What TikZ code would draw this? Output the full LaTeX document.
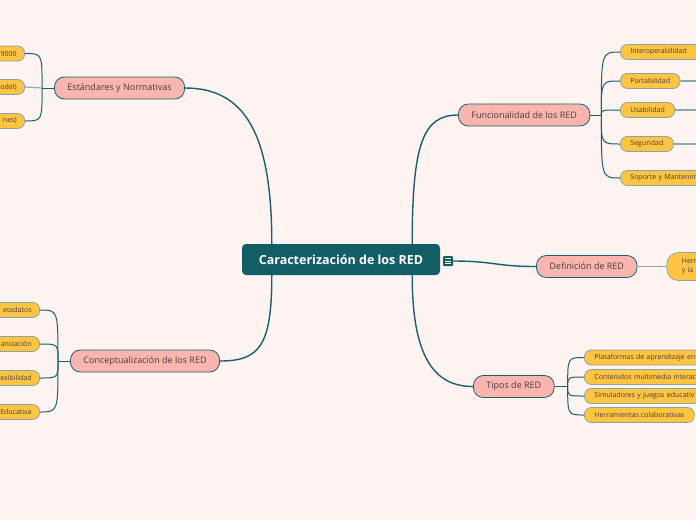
\documentclass[tikz,border=0pt]{standalone}
\usepackage{fontspec}
\setmainfont{Open Sans}
\usetikzlibrary{positioning}

\definecolor{bgpink}{RGB}{253,243,241}
\definecolor{hubteal}{RGB}{17,94,103}
\definecolor{linkteal}{RGB}{26,96,107}
\definecolor{softteal}{RGB}{136,170,174}
\definecolor{topicpink}{RGB}{251,181,175}
\definecolor{leafyellow}{RGB}{255,196,66}
\definecolor{leafedge}{RGB}{140,165,160}
\definecolor{inkgrey}{RGB}{70,60,60}

\begin{document}
\begin{tikzpicture}[x=1pt, y=-1pt,
    hubbox/.style={rectangle, rounded corners=4pt, fill=hubteal, text=white,
                   font=\fontsize{12.5}{14}\selectfont\bfseries,
                   minimum width=198pt, minimum height=31pt, inner sep=0pt},
    topicbox/.style={rectangle, rounded corners=10pt, draw=linkteal, line width=0.8pt,
                     fill=topicpink, text=inkgrey, font=\fontsize{9}{11}\selectfont,
                     minimum height=22pt, inner xsep=13pt, inner ysep=0pt},
    leafbox/.style={rectangle, rounded corners=7pt, draw=leafedge, line width=0.8pt,
                    fill=leafyellow, text=inkgrey, font=\fontsize{7}{8.5}\selectfont,
                    minimum height=15pt, inner xsep=10pt, inner ysep=0pt},
    cutleft/.style={leafbox, anchor=east, text width=50pt, align=right, inner xsep=8pt},
    cutright/.style={leafbox, anchor=west, text width=120pt, align=left},
    branch/.style={draw=linkteal, line width=1.4pt},
    twig/.style={draw=linkteal, line width=1pt},
    softtwig/.style={draw=softteal, line width=1.2pt}
]

\fill[bgpink] (0,0) rectangle (696,520);
\useasboundingbox (0,0) rectangle (696,520);
\clip (0,0) rectangle (696,520);

% central topic
\node[hubbox] (hub) at (341,259.5) {Caracterización de los RED};
\node[fill=hubteal, minimum size=10pt, inner sep=0pt, rounded corners=1pt] (note) at (448,261) {};
\foreach \ly in {258.5,261,263.5}
    \draw[white, line width=0.6pt] (445,\ly) -- (451,\ly);

% main topics
\node[topicbox, anchor=east] (std) at (185,88) {Estándares y Normativas};
\node[topicbox, anchor=east] (concept) at (220,361) {Conceptualización de los RED};
\node[topicbox, anchor=west] (func) at (458,115) {Funcionalidad de los RED};
\node[topicbox, anchor=west] (def) at (536,266.5) {Definición de RED};
\node[topicbox, anchor=west] (tipos) at (473,386.5) {Tipos de RED};

% leaves, left side
\node[cutleft] (stdA) at (25,53.5) {9000};
\node[cutleft] (stdB) at (25,87) {odel)};
\node[cutleft] (stdC) at (25,121) {nes)};

\node[cutleft] (conceptA) at (40,310) {etadatos};
\node[cutleft] (conceptB) at (40,344) {anización};
\node[cutleft] (conceptC) at (40,378) {exibilidad};
\node[cutleft] (conceptD) at (40,412) {Educativa};

% leaves, right side
\node[cutright] (funcA) at (620,52) {Interoperabilidad};
\node[leafbox, anchor=west] (funcB) at (620,81) {Portabilidad};
\node[leafbox, anchor=west] (funcC) at (620,110) {Usabilidad};
\node[leafbox, anchor=west] (funcD) at (620,144) {Seguridad};
\node[cutright] (funcE) at (620,178) {Soporte y Mantenim};

\node[leafbox, rounded corners=12pt, minimum height=28pt, text width=40pt, align=left,
      inner xsep=15pt, right=29pt of def] (defA) {Herr\\y la};

\node[cutright] (tiposA) at (584,357.5) {Plataformas de aprendizaje en};
\node[cutright] (tiposB) at (584,377) {Contenidos multimedia interac};
\node[cutright] (tiposC) at (584,396) {Simuladores y juegos educativ};
\node[leafbox, anchor=west] (tiposD) at (584,415) {Herramientas colaborativas};

% junctions and stubs
\coordinate (stdJ) at ([xshift=-12pt]std.west);
\coordinate (conceptJ) at ([xshift=-12pt]concept.west);
\coordinate (funcJ) at ([xshift=11pt]func.east);
\coordinate (tiposJ) at ([xshift=13pt]tipos.east);
\coordinate (funcBout) at (700,81);
\coordinate (funcCout) at (700,110);
\coordinate (funcDout) at (700,144);

% main branches
\draw[branch] ([xshift=30pt]hub.north west) .. controls +(0,-110) and +(60,0) .. (std.east);
\draw[branch] ([xshift=30pt]hub.south west) .. controls +(0,70) and +(40,0) .. (concept.east);
\draw[branch] ([xshift=-28pt]hub.north east) .. controls +(0,-100) and +(-35,0) .. (func.west);
\draw[branch] ([xshift=-28pt]hub.south east) .. controls +(0,80) and +(-40,0) .. (tipos.west);
\draw[branch] (note.east) .. controls +(40,0) and +(-40,0) .. (def.west);

% sub branches
\draw[twig] (std.west) -- (stdJ);
\draw[twig] (stdJ) .. controls (stdJ |- stdA.east) .. (stdA.east);
\draw[twig] (stdJ) .. controls (stdJ |- stdC.east) .. (stdC.east);
\draw[softtwig] (stdB.east) -- (stdJ);

\draw[twig] (concept.west) -- (conceptJ);
\draw[twig] (conceptJ) .. controls (conceptJ |- conceptA.east) .. (conceptA.east);
\draw[twig] (conceptJ) .. controls (conceptJ |- conceptB.east) .. (conceptB.east);
\draw[twig] (conceptJ) .. controls (conceptJ |- conceptC.east) .. (conceptC.east);
\draw[twig] (conceptJ) .. controls (conceptJ |- conceptD.east) .. (conceptD.east);

\draw[twig] (func.east) -- (funcJ);
\draw[twig] (funcJ) .. controls (funcJ |- funcA.west) .. (funcA.west);
\draw[twig] (funcJ) .. controls (funcJ |- funcB.west) .. (funcB.west);
\draw[twig] (funcJ) .. controls (funcJ |- funcC.west) .. (funcC.west);
\draw[twig] (funcJ) .. controls (funcJ |- funcD.west) .. (funcD.west);
\draw[twig] (funcJ) .. controls (funcJ |- funcE.west) .. (funcE.west);
\draw[softtwig] (funcB.east) -- (funcBout);
\draw[softtwig] (funcC.east) -- (funcCout);
\draw[softtwig] (funcD.east) -- (funcDout);

\draw[softtwig] (def.east) -- (defA.west);

\draw[twig] (tipos.east) -- (tiposJ);
\draw[twig] (tiposJ) .. controls (tiposJ |- tiposA.west) .. (tiposA.west);
\draw[twig] (tiposJ) .. controls (tiposJ |- tiposB.west) .. (tiposB.west);
\draw[twig] (tiposJ) .. controls (tiposJ |- tiposC.west) .. (tiposC.west);
\draw[twig] (tiposJ) .. controls (tiposJ |- tiposD.west) .. (tiposD.west);

\end{tikzpicture}
\end{document}
